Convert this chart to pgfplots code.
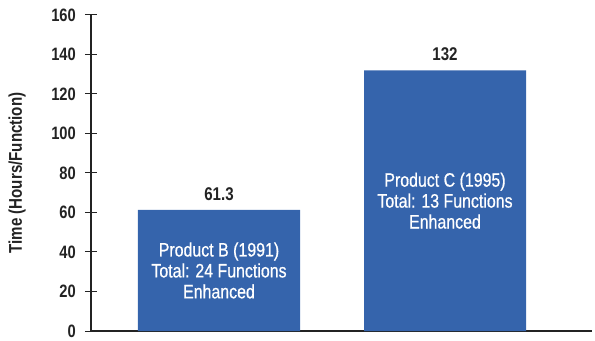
\documentclass[border=0pt]{standalone}
\usepackage{pgfplots}
\pgfplotsset{compat=1.18}
\usepackage{fontspec}
\setmainfont{Liberation Sans}[FakeStretch=0.82]
\newfontfamily\medfont{Liberation Sans}[FakeStretch=0.82, FakeBold=0.6]
\definecolor{barblue}{RGB}{53,100,172}
\definecolor{axisgray}{RGB}{35,35,35}
\begin{document}
\begin{tikzpicture}
\begin{axis}[
  scale only axis, width=501bp, height=316bp,
  xmin=0, xmax=501, ymin=0, ymax=160,
  axis x line=bottom, axis y line=left,
  axis line style={-, axisgray, line width=1.2bp},
  xtick=\empty, ytick={0,20,...,160},
  tick align=center, major tick length=12bp,
  tick style={axisgray, line width=1bp},
  /pgf/number format/assume math mode=true,
  yticklabel style={font=\fontsize{18}{18}\selectfont\bfseries, text=axisgray,
    inner sep=0.5bp, xshift=-8.5bp},
  ylabel={Time (Hours/Function)},
  ylabel style={font=\fontsize{18.5}{18.5}\selectfont\bfseries, text=axisgray,
    at={(axis description cs:-0.1477,0.5)}, anchor=center},
  nodes near coords,
  nodes near coords style={font=\fontsize{18.5}{18.5}\selectfont\bfseries, text=axisgray,
    anchor=center, yshift=16bp},
  clip=false,
]
\addplot[ybar, bar width=162, fill=barblue, draw=none,
  point meta=explicit symbolic] coordinates {(128,61.3) [61.3] (354,132) [132]};
\node[align=center, text=white, font=\fontsize{19.5}{21}\selectfont\medfont]
  at (axis cs:128,30.65) {Product B (1991)\\Total: 24 Functions\\Enhanced};
\node[align=center, text=white, font=\fontsize{19.5}{21}\selectfont\medfont]
  at (axis cs:354,66) {Product C (1995)\\Total: 13 Functions\\Enhanced};
\end{axis}
\pgfresetboundingbox
\path[use as bounding box] (current axis.origin) ++(-91bp,-10bp) rectangle ++(595bp,341bp);
\end{tikzpicture}
\end{document}
